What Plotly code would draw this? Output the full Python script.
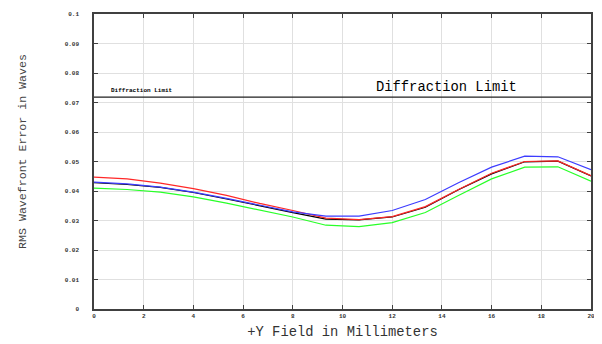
import plotly.graph_objects as go

field_mm = [0, 1.333, 2.667, 4, 5.333, 6.667, 8, 9.333, 10.667, 12, 13.333, 14.667, 16, 17.333, 18.667, 20]
rms_black = [0.0428, 0.0422, 0.0412, 0.0395, 0.0373, 0.0349, 0.0327, 0.0305, 0.0302, 0.0312, 0.0345, 0.0404, 0.0458, 0.0499, 0.0501, 0.0451]
rms_red   = [0.0447, 0.0441, 0.0427, 0.0408, 0.0385, 0.0358, 0.0334, 0.0308, 0.0303, 0.0313, 0.0347, 0.0405, 0.0460, 0.0500, 0.0502, 0.0452]
rms_blue  = [0.0430, 0.0424, 0.0413, 0.0396, 0.0375, 0.0351, 0.0329, 0.0315, 0.0315, 0.0334, 0.0371, 0.0428, 0.0481, 0.0518, 0.0516, 0.0472]
rms_green = [0.0410, 0.0405, 0.0396, 0.0380, 0.0359, 0.0336, 0.0312, 0.0284, 0.0279, 0.0293, 0.0327, 0.0385, 0.0441, 0.0481, 0.0482, 0.0433]
diffraction_limit = 0.0718
x_ticks = [0, 2, 4, 6, 8, 10, 12, 14, 16, 18, 20]
y_ticks = [0, 0.01, 0.02, 0.03, 0.04, 0.05, 0.06, 0.07, 0.08, 0.09, 0.1]
y_tick_labels = ["0", "0.01", "0.02", "0.03", "0.04", "0.05", "0.06", "0.07", "0.08", "0.09", "0.1"]

MONO = "Liberation Mono, Courier New, monospace"

fig = go.Figure()
for ys, col in [(rms_black, "#000000"), (rms_red, "#ff2828"), (rms_blue, "#3c3cff"), (rms_green, "#28ff28")]:
    fig.add_trace(go.Scatter(x=field_mm, y=ys, mode="lines",
                             line=dict(color=col, width=1.2), showlegend=False, hoverinfo="skip"))

fig.add_shape(type="line", xref="x", yref="y", x0=0, x1=20, y0=diffraction_limit, y1=diffraction_limit,
              line=dict(color="#202020", width=1.2))
fig.add_annotation(x=0.6, y=diffraction_limit, xref="x", yref="y", text="<b>Diffraction Limit</b>",
                   showarrow=False, xanchor="left", yanchor="bottom", yshift=1,
                   font=dict(family=MONO, size=6, color="#000"))
fig.add_annotation(x=14.2, y=diffraction_limit, xref="x", yref="y", text="Diffraction Limit",
                   showarrow=False, xanchor="center", yanchor="bottom", yshift=0,
                   font=dict(family=MONO, size=13.8, color="#000"))
fig.add_annotation(x=-0.144, y=0.534, xref="paper", yref="paper", text="RMS Wavefront Error in Waves",
                   showarrow=False, xanchor="center", yanchor="middle", textangle=-90,
                   font=dict(family=MONO, size=11.6, color="#444"))

fig.update_layout(
    width=590, height=336,
    margin=dict(l=86, r=4, t=3, b=35),
    paper_bgcolor="white", plot_bgcolor="white",
    font=dict(family=MONO, color="#000"),
    xaxis=dict(range=[0, 20], tickvals=x_ticks, ticktext=[f"<b>{v}</b>" for v in x_ticks],
               showgrid=True, gridcolor="#e0e0e0", gridwidth=1, zeroline=False,
               showline=True, linecolor="#404040", linewidth=1.5, mirror="ticks",
               ticks="inside", ticklen=4, tickcolor="#404040", ticklabeloverflow="allow",
               tickfont=dict(family=MONO, size=6, color="#333"),
               title=dict(text="+Y Field in Millimeters", font=dict(family=MONO, size=13.8, color="#333"), standoff=7)),
    yaxis=dict(range=[0, 0.1], tickvals=y_ticks, ticktext=[f"<b>{t}</b>" for t in y_tick_labels],
               showgrid=True, gridcolor="#e0e0e0", gridwidth=1, zeroline=False,
               showline=True, linecolor="#404040", linewidth=1.5, mirror="ticks",
               ticks="inside", ticklen=4, tickcolor="#404040", ticklabelstandoff=12,
               tickfont=dict(family=MONO, size=6, color="#333")),
)

fig.write_html("out.html")
